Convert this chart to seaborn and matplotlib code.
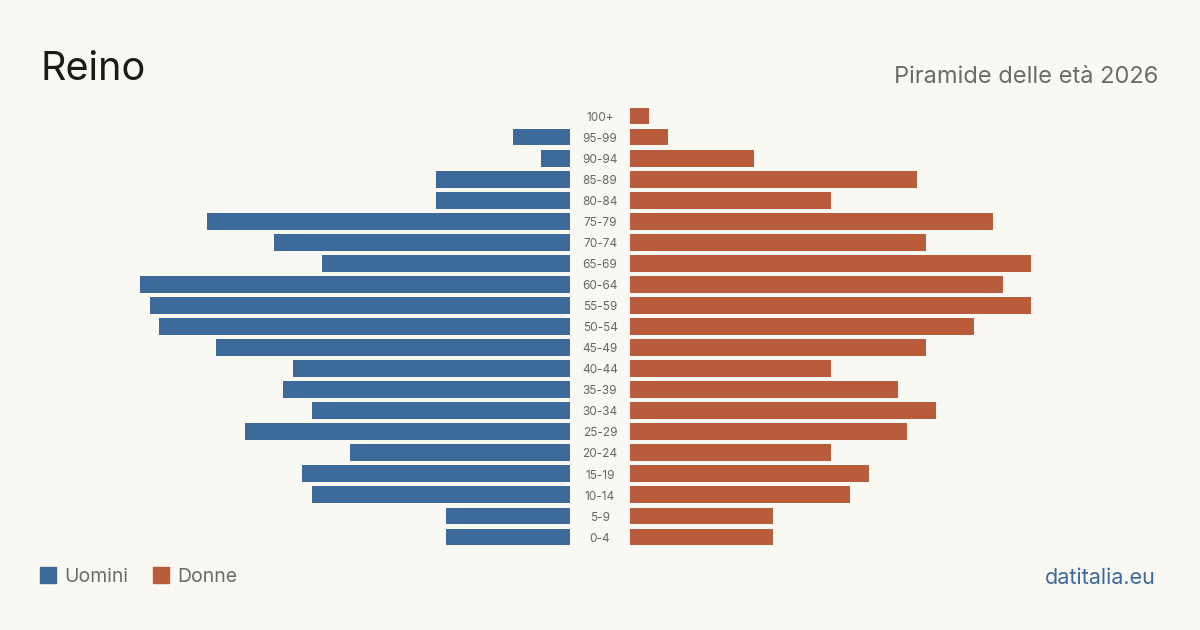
import pandas as pd
from matplotlib import pyplot as plt
from matplotlib.patches import Rectangle
import seaborn as sns

ages = ["100+", "95-99", "90-94", "85-89", "80-84", "75-79", "70-74", "65-69",
        "60-64", "55-59", "50-54", "45-49", "40-44", "35-39", "30-34", "25-29",
        "20-24", "15-19", "10-14", "5-9", "0-4"]
uomini = [0, 6, 3, 14, 14, 38, 31, 26, 45, 44, 43, 37, 29, 30, 27, 34, 23, 28, 27, 13, 13]
donne = [2, 4, 13, 30, 21, 38, 31, 42, 39, 42, 36, 31, 21, 28, 32, 29, 21, 25, 23, 15, 15]

BG = "#faf8f3"
BLUE = "#3b6a9b"
ORANGE = "#b85c3b"

sns.set_theme(style="white")
plt.rcParams["font.family"] = ["Inter", "DejaVu Sans"]

df = pd.DataFrame({"age": ages, "Uomini": uomini, "Donne": donne})

fig = plt.figure(figsize=(12, 6.3), dpi=100, facecolor=BG)
top, bottom = 1 - 105.5 / 630, 1 - 547.5 / 630
ax_m = fig.add_axes([140 / 1200, bottom, 430 / 1200, top - bottom])
ax_f = fig.add_axes([630 / 1200, bottom, 430 / 1200, top - bottom])

xmax = max(max(uomini), max(donne))
sns.barplot(data=df, y="age", x="Uomini", order=ages, color=BLUE, width=0.8,
            saturation=1, linewidth=0, ax=ax_m)
sns.barplot(data=df, y="age", x="Donne", order=ages, color=ORANGE, width=0.8,
            saturation=1, linewidth=0, ax=ax_f)
ax_m.set_xlim(xmax, 0)
ax_f.set_xlim(0, xmax)

for ax in (ax_m, ax_f):
    ax.set_facecolor(BG)
    ax.set_ylim(len(ages) - 0.5, -0.5)
    ax.set_xlabel("")
    ax.set_ylabel("")
    ax.set_xticks([])
    ax.set_yticks([])
    sns.despine(ax=ax, left=True, bottom=True)

# age labels between the two halves
trans = ax_m.get_yaxis_transform()
for i, a in enumerate(ages):
    ax_m.text(1 + 30 / 430, i + 0.08, a, transform=trans, ha="center", va="center",
              fontsize=8.5, color="#666666")

fig.text(40 / 1200, 1 - 69 / 630, "Reino", fontsize=28.5, color="#1a1a1a",
         ha="left", va="center")
fig.text(1158 / 1200, 1 - 77 / 630, "Piramide delle età 2026", fontsize=17,
         color="#6b6b6b", ha="right", va="center")

# legend
for x0, lab, col in [(40, "Uomini", BLUE), (153, "Donne", ORANGE)]:
    fig.patches.append(Rectangle((x0 / 1200, 1 - 583 / 630), 16 / 1200, 16 / 630,
                                 transform=fig.transFigure, color=col))
    fig.text((x0 + 24) / 1200, 1 - 577.5 / 630, lab, fontsize=14, color="#6b6b6b",
             ha="left", va="center")

fig.text(1156 / 1200, 1 - 577.5 / 630, "datitalia.eu", fontsize=15.5, color=BLUE,
         ha="right", va="center")

fig.savefig("out.png", dpi=100, facecolor=BG)
